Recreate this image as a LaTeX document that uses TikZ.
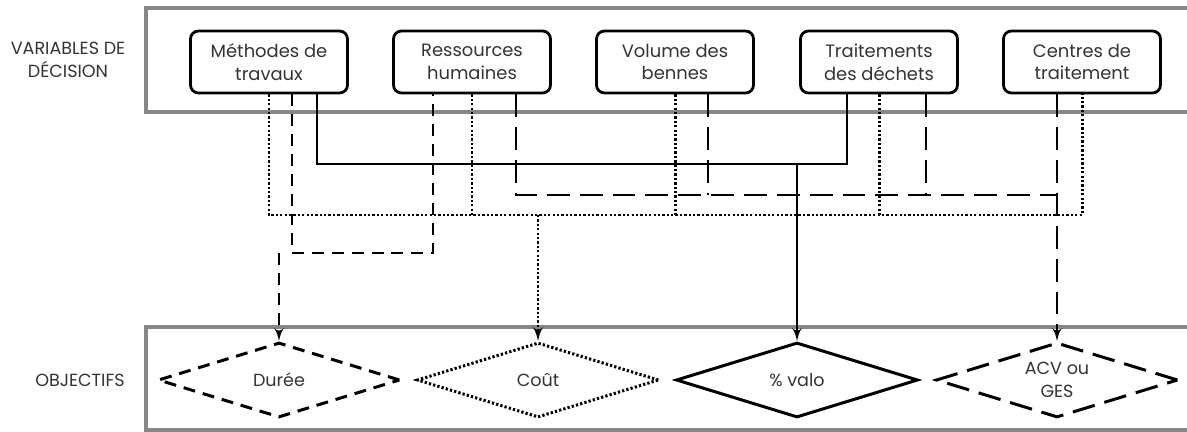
\documentclass[tikz,border=0pt]{standalone}
\usepackage{fontspec}
\setmainfont{Poppins}
\usetikzlibrary{shapes.geometric, arrows, calc}

\tikzset{
  decision/.style = {draw = black, line width = 1.6pt, rounded corners = 4.5pt, minimum width = 3.14cm, minimum height = 1.24cm, align = center, text = black!80, font = \fontsize{10.2}{13}\selectfont},
  objective/.style = {draw = black, line width = 1.7pt, shape = diamond, aspect = 3.2, minimum width = 4.84cm, minimum height = 1.5cm, inner sep = 0pt, align = center, text = black!80, font = \fontsize{10}{13}\selectfont},
  panel/.style = {draw = black!47, line width = 2pt},
  caption/.style = {align = center, text = black!80, font = \fontsize{10}{13}\selectfont},
  link/.style = {line width = 1.5pt},
  dotline/.style = {line width = 1.7pt, dash pattern = on 1.3pt off 1.2pt},
  shortdash/.style = {dash pattern = on 6.8pt off 4.5pt},
  longdash/.style = {dash pattern = on 13pt off 5.7pt},
}

\begin{document}
\begin{tikzpicture}[x = 0.02cm, y = -0.02cm]
\useasboundingbox (0, 0) rectangle (1187, 432);

\draw [panel] (1187, 8) -- (146, 8) -- (146, 112) -- (1187, 112);
\draw [panel] (1187, 327) -- (146, 327) -- (146, 430) -- (1187, 430);

\node [caption] (varlabel) at (68, 60) {VARIABLES DE\\DÉCISION};
\node [caption] (objlabel) at (80, 380) {OBJECTIFS};

\node [decision] (meth) at (269, 62) {Méthodes de\\travaux};
\node [decision] (res) at (472, 62) {Ressources\\humaines};
\node [decision] (vol) at (675, 62) {Volume des\\bennes};
\node [decision] (trait) at (879, 62) {Traitements\\des déchets};
\node [decision] (ctr) at (1082, 62) {Centres de\\traitement};

\node [objective, shortdash] (duree) at (279, 380) {Durée};
\node [objective, dotline, line width = 1.7pt] (cout) at (538, 380) {Coût};
\node [objective] (valo) at (797, 380) {\% valo};
\node [objective, longdash] (acv) at (1057, 380) {ACV ou\\GES};

% points de depart sous les boites
\coordinate (meth-dash) at ($(meth.south) + (23, 0)$);
\coordinate (meth-solid) at ($(meth.south) + (48, 0)$);
\coordinate (res-dash) at ($(res.south) + (-39, 0)$);
\coordinate (res-long) at ($(res.south) + (44, 0)$);
\coordinate (vol-long) at ($(vol.south) + (33, 0)$);
\coordinate (trait-solid) at ($(trait.south) + (-32, 0)$);
\coordinate (trait-long) at ($(trait.south) + (47, 0)$);
\coordinate (ctr-long) at ($(ctr.south) + (-25, 0)$);

\coordinate (dotbus) at (538, 215);
\coordinate (dashbus) at (279, 253);
\coordinate (solidbus) at (797, 164);
\coordinate (longbus) at (1057, 195);

% cout
\draw [link, dotline] (meth.south) |- (ctr.south |- dotbus) -- (ctr.south);
\draw [link, dotline] (res.south) -- (res.south |- dotbus);
\draw [link, dotline] (vol.south) -- (vol.south |- dotbus);
\draw [link, dotline] (trait.south) -- (trait.south |- dotbus);
\draw [link, dotline, -latex'] (dotbus) -- (cout.north);

% duree
\draw [link, shortdash] (meth-dash) |- (res-dash |- dashbus) -- (res-dash);
\draw [link, shortdash, -latex'] (dashbus) -- (duree.north);

% valorisation
\draw [link] (meth-solid) |- (trait-solid |- solidbus) -- (trait-solid);
\draw [link, -latex'] (solidbus) -- (valo.north);

% acv
\draw [link, longdash] (res-long) |- (longbus);
\draw [link, longdash] (vol-long) -- (vol-long |- longbus);
\draw [link, longdash] (trait-long) -- (trait-long |- longbus);
\draw [link, longdash, -latex'] (ctr-long) -- (acv.north);

\end{tikzpicture}
\end{document}
